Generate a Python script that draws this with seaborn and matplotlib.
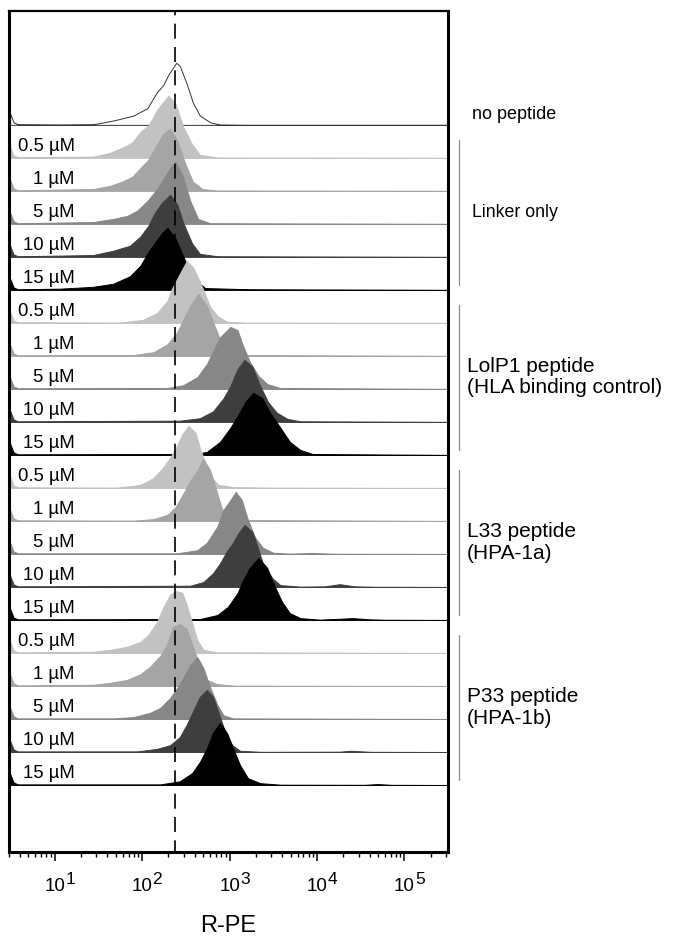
import numpy as np
import matplotlib
matplotlib.use("Agg")
import matplotlib.pyplot as plt
import matplotlib.transforms as mtransforms
from matplotlib.ticker import LogLocator, FuncFormatter, NullFormatter
import seaborn as sns

# ------------------ Data ------------------
# positions are log10(R-PE), heights are % of mode
concentrations = ["0.5 µM", "1 µM", "5 µM", "10 µM", "15 µM"]
conc_colors = ["#c2c2c2", "#a5a5a5", "#878787", "#3e3e3e", "#000000"]

groups = ["Linker only",
          "LolP1 peptide\n(HLA binding control)",
          "L33 peptide\n(HPA-1a)",
          "P33 peptide\n(HPA-1b)"]

# pile-up at the lowest channel, seen on every histogram
edge_pos = [0.49, 0.53, 0.58]
edge_pct = [18, 4, 1]

no_peptide_pos = [1.06, 1.44, 1.67, 1.90, 2.06, 2.17, 2.24, 2.30, 2.39, 2.43, 2.51, 2.58, 2.66, 2.78, 2.89, 3.20]
no_peptide_pct = [0.5, 1, 7, 15, 27, 53, 64, 81, 100, 95, 66, 36, 15, 4, 0.5, 0]

linker_pos = [
    [1.44, 1.63, 1.78, 1.89, 1.98, 2.07, 2.17, 2.23, 2.30, 2.38, 2.47, 2.57, 2.66, 2.86],
    [1.44, 1.63, 1.77, 1.89, 1.98, 2.07, 2.17, 2.24, 2.32, 2.40, 2.49, 2.58, 2.69, 2.86],
    [1.44, 1.67, 1.83, 1.94, 2.06, 2.17, 2.26, 2.32, 2.38, 2.46, 2.55, 2.64, 2.78],
    [1.44, 1.67, 1.86, 1.98, 2.07, 2.15, 2.23, 2.32, 2.40, 2.47, 2.57, 2.66, 2.86],
    [1.06, 1.44, 1.67, 1.86, 1.98, 2.07, 2.17, 2.23, 2.29, 2.38, 2.49, 2.61, 2.72, 3.23],
]
linker_pct = [
    [2, 8, 17, 25, 42, 52, 77, 88, 100, 88, 50, 22, 5, 0.5],
    [3, 8, 15, 23, 37, 50, 75, 92, 100, 82, 45, 15, 3, 0.5],
    [3, 8, 13, 21, 37, 56, 76, 90, 100, 79, 37, 8, 1],
    [3, 10, 18, 33, 50, 72, 88, 100, 85, 55, 22, 5, 1],
    [2, 5, 10, 22, 39, 61, 81, 92, 100, 83, 48, 17, 3, 1],
]

lolp1_pos = [
    [1.75, 2.01, 2.17, 2.29, 2.34, 2.43, 2.51, 2.58, 2.66, 2.72, 2.78, 2.87, 2.97, 3.18],
    [1.90, 2.13, 2.29, 2.40, 2.47, 2.55, 2.64, 2.74, 2.81, 2.89, 2.97, 3.09],
    [2.29, 2.47, 2.63, 2.74, 2.81, 2.89, 3.01, 3.09, 3.15, 3.23, 3.33, 3.43, 3.58],
    [2.43, 2.66, 2.81, 2.93, 3.01, 3.09, 3.17, 3.26, 3.35, 3.44, 3.54, 3.66, 3.81],
    [2.61, 2.74, 2.89, 3.01, 3.10, 3.18, 3.27, 3.37, 3.46, 3.58, 3.69, 3.81, 3.95],
]
lolp1_pct = [
    [0.5, 5, 16, 36, 55, 79, 100, 90, 67, 46, 25, 10, 2, 0.3],
    [1.5, 6, 19, 38, 58, 81, 100, 81, 55, 27, 8, 1.5],
    [1.5, 6, 19, 40, 60, 83, 100, 95, 71, 44, 21, 8, 1.5],
    [2, 6, 17, 38, 58, 85, 100, 89, 58, 32, 15, 5, 1],
    [1.5, 5, 21, 44, 65, 85, 100, 92, 69, 44, 21, 8, 1.5],
]

l33_pos = [
    [1.71, 1.98, 2.13, 2.24, 2.32, 2.38, 2.46, 2.53, 2.61, 2.66, 2.72, 2.80, 2.87, 3.04, 3.43],
    [1.90, 2.13, 2.29, 2.38, 2.47, 2.55, 2.63, 2.70, 2.78, 2.86, 2.91, 2.98, 3.12],
    [2.40, 2.63, 2.74, 2.86, 2.93, 3.01, 3.07, 3.14, 3.21, 3.29, 3.38, 3.50, 3.69, 3.94, 4.21],
    [2.55, 2.70, 2.81, 2.89, 2.97, 3.03, 3.09, 3.17, 3.26, 3.31, 3.38, 3.49, 3.58, 3.81, 4.09, 4.26, 4.43, 4.66],
    [2.66, 2.86, 2.98, 3.09, 3.15, 3.23, 3.33, 3.43, 3.50, 3.60, 3.69, 3.81, 4.03, 4.26, 4.41, 4.61, 4.78],
]
l33_pct = [
    [0.5, 5, 16, 33, 49, 63, 87, 100, 89, 65, 40, 16, 5, 1.5, 0.5],
    [0.5, 3, 10, 22, 44, 65, 81, 100, 81, 44, 21, 5, 1.5],
    [1, 6, 18, 44, 71, 87, 100, 87, 55, 27, 10, 2, 0.5, 1.5, 0.3],
    [2, 8, 22, 38, 58, 69, 84, 100, 89, 69, 38, 14, 3, 0.5, 1, 4.5, 1, 0.3],
    [1.5, 8, 21, 43, 63, 84, 100, 84, 59, 29, 11, 3, 0.5, 2, 3, 1, 0.3],
]

p33_pos = [
    [1.44, 1.63, 1.83, 1.98, 2.07, 2.17, 2.24, 2.32, 2.38, 2.46, 2.51, 2.57, 2.63, 2.70, 2.86],
    [1.44, 1.63, 1.83, 1.98, 2.09, 2.21, 2.29, 2.35, 2.43, 2.51, 2.58, 2.66, 2.74, 2.86, 3.06],
    [1.67, 1.90, 2.09, 2.21, 2.32, 2.40, 2.47, 2.55, 2.63, 2.70, 2.78, 2.86, 2.93, 3.04],
    [1.94, 2.17, 2.32, 2.43, 2.51, 2.58, 2.66, 2.74, 2.81, 2.87, 2.95, 3.03, 3.12, 3.35, 4.26, 4.38, 4.61],
    [2.21, 2.43, 2.57, 2.66, 2.74, 2.81, 2.89, 2.97, 3.04, 3.12, 3.21, 3.35, 3.58, 4.55, 4.69, 4.85],
]
p33_pct = [
    [2, 5, 10, 18, 29, 50, 73, 94, 100, 97, 77, 50, 21, 5, 1],
    [2, 5, 10, 19, 31, 49, 69, 95, 100, 92, 64, 31, 10, 3, 0.5],
    [1, 3, 10, 18, 34, 50, 66, 87, 100, 82, 50, 23, 6, 1],
    [1, 5, 11, 24, 44, 65, 89, 100, 89, 65, 32, 11, 2, 0.3, 0.5, 2, 0.3],
    [1, 6, 19, 37, 59, 84, 100, 84, 59, 32, 11, 3, 0.5, 0.3, 1.5, 0.3],
]

ref_line = 238          # dashed marker, mode of the no-peptide sample
x_limits = (3.0, 3.15e5)

# ------------------ Style ------------------
sns.set_theme(style="ticks")
plt.rcParams["font.family"] = ["Liberation Sans", "DejaVu Sans"]
plt.rcParams["text.color"] = "black"

ROW_STEP = 1.0
PEAK_HEIGHT = 1.88      # mode height in row units

# ------------------ Build rows ------------------
rows = [("", "white", no_peptide_pos, no_peptide_pct)]
for pos_set, pct_set in [(linker_pos, linker_pct), (lolp1_pos, lolp1_pct),
                         (l33_pos, l33_pct), (p33_pos, p33_pct)]:
    for conc, col, pos, pct in zip(concentrations, conc_colors, pos_set, pct_set):
        rows.append((conc, col, pos, pct))

n_rows = len(rows)

fig = plt.figure(figsize=(6.77, 9.40), dpi=100)
ax = fig.add_axes([9 / 677, 88 / 940, 439 / 677, 841 / 940])
trans = mtransforms.blended_transform_factory(ax.transAxes, ax.transData)

for i, (label, col, pos, pct) in enumerate(rows):
    base = (n_rows - 1 - i) * ROW_STEP
    x = np.power(10.0, np.array(edge_pos + pos + [5.5]))
    h = np.array(edge_pct + pct + [0]) / 100.0 * PEAK_HEIGHT
    if i == 0:
        ax.fill_between(x, base, base + h, facecolor="white", edgecolor="#333333",
                        linewidth=0.7, zorder=2 + i)
    else:
        ax.fill_between(x, base, base + h, facecolor=col, edgecolor=col,
                        linewidth=0.7, zorder=2 + i)
        ax.text(0.150, base + 0.34, label, transform=trans, ha="right", va="center",
                fontsize=13.3, zorder=60)

ax.axvline(ref_line, color="black", lw=1.2, ls=(2, (9, 5)), zorder=50)

# ------------------ Group annotations ------------------
top_base = (n_rows - 1) * ROW_STEP
ax.text(1.055, top_base + 0.30, "no peptide", transform=trans, ha="left", va="center",
        fontsize=13, clip_on=False)
for g, name in enumerate(groups):
    first = top_base - (1 + 5 * g) * ROW_STEP
    last = first - 4 * ROW_STEP
    y_top, y_bot = first + 0.55, last + 0.15
    ax.plot([1.025, 1.025], [y_top, y_bot], transform=trans, color="#8c8c8c",
            lw=0.9, clip_on=False)
    fs = 12.8 if g == 0 else 15
    xt = 1.055 if g == 0 else 1.043
    ax.text(xt, (y_top + y_bot) / 2, name, transform=trans, ha="left", va="center",
            fontsize=fs, linespacing=1.15, clip_on=False)

# ------------------ Axes ------------------
ax.set_xscale("log")
ax.set_xlim(*x_limits)
ax.set_ylim(-2.03, top_base + 3.45)
ax.set_yticks([])
ax.xaxis.set_major_locator(LogLocator(base=10, numticks=12))
ax.xaxis.set_minor_locator(LogLocator(base=10, subs=np.arange(2, 10), numticks=12))
ax.xaxis.set_major_formatter(FuncFormatter(lambda v, p: "10"))
ax.xaxis.set_minor_formatter(NullFormatter())
ax.tick_params(axis="x", which="major", direction="out", length=6.5, width=1.1,
               labelsize=13.5, pad=12.5, color="black", labelcolor="black")
ax.tick_params(axis="x", which="minor", direction="out", length=3.6, width=1.0, color="black")

# exponents drawn close to full size, as in the original
xtrans = mtransforms.blended_transform_factory(ax.transData, ax.transAxes)
for e in range(1, 6):
    ax.annotate(str(e), xy=(10.0 ** e, 0), xycoords=xtrans, xytext=(7.5, -20),
                textcoords="offset points", ha="left", va="center", fontsize=12.5,
                annotation_clip=False)

for side, spine in ax.spines.items():
    spine.set_visible(True)
    spine.set_color("black")
    spine.set_linewidth(2.2 if side in ("left", "bottom", "right") else 1.6)
    spine.set_zorder(70)
ax.set_xlabel("R-PE", fontsize=17, labelpad=14, color="black")

fig.savefig("out.png", dpi=100, facecolor="white")
